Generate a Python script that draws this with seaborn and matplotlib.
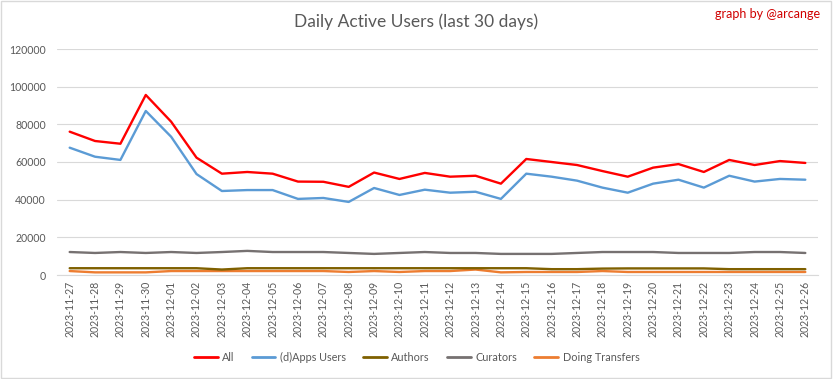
import matplotlib
matplotlib.use("Agg")
import matplotlib.pyplot as plt
import seaborn as sns
import pandas as pd
from matplotlib.lines import Line2D
from matplotlib.patches import Rectangle

dates = ["2023-11-27", "2023-11-28", "2023-11-29", "2023-11-30", "2023-12-01", "2023-12-02",
         "2023-12-03", "2023-12-04", "2023-12-05", "2023-12-06", "2023-12-07", "2023-12-08",
         "2023-12-09", "2023-12-10", "2023-12-11", "2023-12-12", "2023-12-13", "2023-12-14",
         "2023-12-15", "2023-12-16", "2023-12-17", "2023-12-18", "2023-12-19", "2023-12-20",
         "2023-12-21", "2023-12-22", "2023-12-23", "2023-12-24", "2023-12-25", "2023-12-26"]

all_users = [76100, 71150, 69700, 95600, 81400, 62300, 53800, 54700, 53800, 49600, 49500, 46800,
             54400, 51000, 54200, 52200, 52700, 48500, 61600, 60000, 58400, 55200, 52200, 57000,
             58900, 54700, 61100, 58400, 60500, 59500]
dapps_users = [67600, 62800, 61100, 87100, 73400, 53600, 44600, 45100, 45100, 40400, 40900, 38800,
               46200, 42500, 45300, 43700, 44200, 40400, 53800, 52200, 50100, 46400, 43700, 48500,
               50600, 46400, 52700, 49600, 51000, 50600]
authors = [3600, 3600, 3600, 3600, 3600, 3600, 2900, 3600, 3600, 3600, 3600, 3600,
           3600, 3600, 3600, 3600, 3600, 3600, 3600, 3100, 3100, 3400, 3500, 3500,
           3500, 3500, 3100, 3100, 3100, 3100]
curators = [12200, 11700, 12200, 11700, 12200, 11700, 12200, 12800, 12200, 12200, 12200, 11700,
            11200, 11700, 12200, 11700, 11700, 11200, 11200, 11200, 11700, 12200, 12200, 12200,
            11700, 11700, 11700, 12200, 12200, 11700]
transfers = [2100, 1400, 1400, 1400, 2100, 2100, 2100, 2100, 2100, 2100, 2100, 1600,
             2100, 1600, 2100, 2100, 2900, 1400, 1600, 1600, 1600, 2100, 1600, 1600,
             1600, 1600, 1600, 1600, 1600, 1600]

series_names = ["All", "(d)Apps Users", "Authors", "Curators", "Doing Transfers"]
series_values = [all_users, dapps_users, authors, curators, transfers]
colors = ["#FF0000", "#5B9BD5", "#7F6000", "#767171", "#ED7D31"]
y_ticks = [0, 20000, 40000, 60000, 80000, 100000, 120000]

rows = []
for name, vals in zip(series_names, series_values):
    for i, (d, v) in enumerate(zip(dates, vals)):
        rows.append({"idx": i, "date": d, "series": name, "value": v})
df = pd.DataFrame(rows)

sns.set_theme(style="white")
plt.rcParams["font.family"] = ["Lato", "DejaVu Sans"]

fig = plt.figure(figsize=(8.33, 3.79), dpi=100)
ax = fig.add_axes([57 / 833, 1 - 275 / 379, (818 - 57) / 833, (275 - 49) / 379])

palette = dict(zip(series_names, colors))
# draw in reverse order so All is on top
sns.lineplot(data=df, x="idx", y="value", hue="series", hue_order=series_names[::-1],
             palette=palette, linewidth=1.7, ax=ax, legend=False, sort=False)

ax.set_xlim(-0.5, len(dates) - 0.5)
ax.set_ylim(0, 120000)
ax.set_yticks(y_ticks)
ax.set_yticklabels([str(t) for t in y_ticks], fontsize=7.6, color="#595959")
ax.set_xticks(range(len(dates)))
ax.set_xticklabels(dates, rotation=90, fontsize=7.6, color="#595959")
ax.tick_params(axis="y", length=0, pad=8)
ax.tick_params(axis="x", length=0, pad=4)
ax.set_xlabel("")
ax.set_ylabel("")
ax.grid(axis="y", color="#D9D9D9", linewidth=0.8)
ax.set_axisbelow(True)
for s in ["top", "right", "left"]:
    ax.spines[s].set_visible(False)
ax.spines["bottom"].set_color("#D9D9D9")
ax.spines["bottom"].set_linewidth(0.8)

fig.text(0.5, 1 - 22 / 379, "Daily Active Users (last 30 days)", ha="center", va="center",
         fontsize=12.5, color="#595959")
fig.text(820 / 833, 1 - 14 / 379, "graph by @arcange", ha="right", va="center",
         fontsize=9, color="#D00000")

handles = [Line2D([0], [0], color=c, linewidth=2) for c in colors]
fig.legend(handles, series_names, loc="center", bbox_to_anchor=(0.5, 1 - 357 / 379),
           ncol=5, frameon=False, fontsize=7.8, handlelength=2.2, columnspacing=1.6,
           handletextpad=0.4, labelcolor="#595959")

fig.patches.append(Rectangle((0.001, 0.002), 0.997, 0.995, transform=fig.transFigure,
                             fill=False, edgecolor="#D9D9D9", linewidth=1))

fig.savefig("out.png", dpi=100, facecolor="white")
